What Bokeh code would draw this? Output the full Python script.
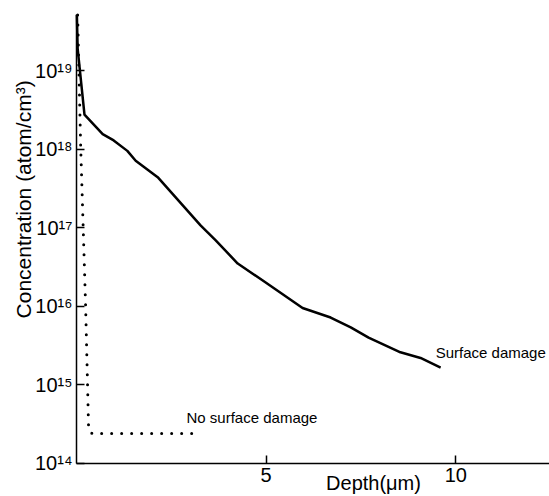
import math
from bokeh.plotting import figure
from bokeh.models import FixedTicker, Label, Range1d
from bokeh.embed import file_html
from bokeh.resources import INLINE

# Surface damage profile (depth in um, concentration in atom/cm^3)
damage_depth = [0.01, 0.03, 0.21, 0.69, 0.98, 1.34, 1.56, 2.14, 3.27, 3.67,
                4.25, 4.93, 5.96, 6.70, 7.23, 7.70, 8.54, 9.07, 9.60]
damage_conc = [5.1e19, 1.9e19, 2.75e18, 1.55e18, 1.29e18, 9.5e17, 7.1e17, 4.4e17,
               1.07e17, 6.9e16, 3.5e16, 2.1e16, 9.5e15, 7.2e15, 5.4e15, 4.0e15,
               2.6e15, 2.2e15, 1.66e15]

# No surface damage profile
nodmg_depth = [0.03, 0.11, 0.24, 0.29, 0.32, 0.42, 3.27]
nodmg_conc = [5.1e19, 1.07e18, 1.0e16, 1.05e15, 2.6e14, 2.4e14, 2.4e14]

x_ticks = [5, 10]
y_ticks = [1e14, 1e15, 1e16, 1e17, 1e18, 1e19]
y_tick_labels = ["10\u00b9\u2074", "10\u00b9\u2075", "10\u00b9\u2076",
                 "10\u00b9\u2077", "10\u00b9\u2078", "10\u00b9\u2079"]

FONT = "Liberation Sans"

p = figure(width=549, height=496, y_axis_type="log",
           x_range=Range1d(-2.004, 12.47),
           y_range=Range1d(10 ** 13.58, 10 ** 19.891),
           output_backend="svg", toolbar_location=None,
           min_border_left=0, min_border_right=0,
           min_border_top=0, min_border_bottom=0)
p.outline_line_color = None
p.xgrid.visible = False
p.ygrid.visible = False
p.background_fill_color = "white"
p.border_fill_color = "white"

p.line(damage_depth, damage_conc, line_color="black", line_width=2.5,
       line_join="round")
p.line(nodmg_depth, nodmg_conc, line_color="black", line_width=3,
       line_dash="0 10", line_cap="round")

# axes (drawn at fixed locations inside the canvas)
p.xaxis.ticker = FixedTicker(ticks=x_ticks)
p.yaxis.ticker = FixedTicker(ticks=y_ticks)
p.yaxis.major_label_overrides = {t: s for t, s in zip(y_ticks, y_tick_labels)}
p.xaxis.fixed_location = 1e14
p.yaxis.fixed_location = 0
p.xaxis.bounds = (0, 12.47)
p.yaxis.bounds = (1e14, 5.1e19)
for ax in (p.xaxis[0], p.yaxis[0]):
    ax.axis_line_color = "black"
    ax.axis_line_width = 1.5
    ax.major_tick_line_color = "black"
    ax.major_tick_line_width = 1.5
    ax.major_tick_in = 8
    ax.major_tick_out = 0
    ax.minor_tick_line_color = None
    ax.major_label_text_font = FONT
    ax.major_label_text_font_size = "20px"
    ax.major_label_text_color = "black"

p.xaxis.major_label_standoff = 5
p.yaxis.major_label_standoff = 4

# axis titles (placed off-centre as in the reference)
p.add_layout(Label(x=-1.40, y=10 ** 17.36, text="Concentration (atom/cm\u00b3)",
                   angle=math.pi / 2, text_font=FONT, text_font_size="21px",
                   text_color="black", text_align="center",
                   text_baseline="middle"))
p.add_layout(Label(x=7.83, y=10 ** 13.75, text="Depth(\u03bcm)",
                   text_font=FONT, text_font_size="20px", text_color="black",
                   text_align="center", text_baseline="middle"))

# curve labels
p.add_layout(Label(x=9.47, y=10 ** 15.41, text="Surface damage",
                   text_font=FONT, text_font_size="15px", text_color="black",
                   text_align="left", text_baseline="middle"))
p.add_layout(Label(x=2.90, y=10 ** 14.585, text="No surface damage",
                   text_font=FONT, text_font_size="15px", text_color="black",
                   text_align="left", text_baseline="middle"))

open("out.html", "w").write(file_html(p, INLINE))
